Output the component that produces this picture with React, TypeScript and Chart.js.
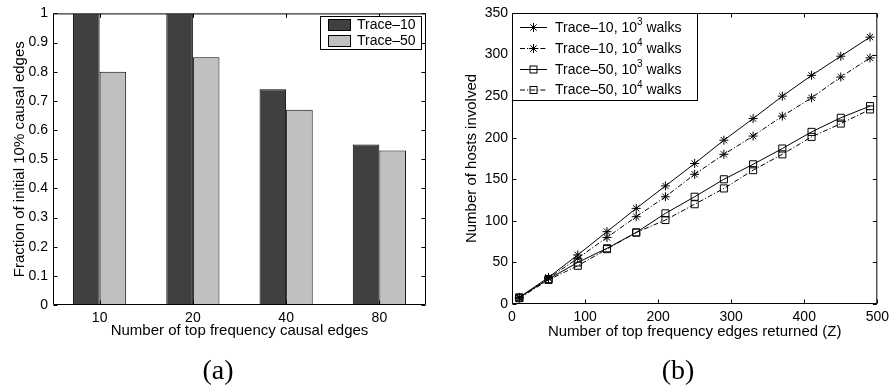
import React, { useEffect, useRef } from "react";
import { Chart, registerables } from "chart.js";

Chart.register(...registerables);

// ---------- Panel (a) data ----------
const barCategories = ["10", "20", "40", "80"];
const trace10Fraction = [1, 1, 0.74, 0.55];
const trace50Fraction = [0.8, 0.85, 0.67, 0.53];
const barYTicks = [0, 0.1, 0.2, 0.3, 0.4, 0.5, 0.6, 0.7, 0.8, 0.9, 1];

// ---------- Panel (b) data ----------
const zValues = [10, 50, 90, 130, 170, 210, 250, 290, 330, 370, 410, 450, 490];
const trace10Walks3 = [8, 32, 59, 87, 115, 142, 169, 197, 223, 250, 275, 298, 321];
const trace10Walks4 = [7, 31, 55, 80, 105, 129, 156, 180, 202, 226, 248, 273, 296];
const trace50Walks3 = [8, 30, 50, 67, 86, 109, 129, 150, 168, 187, 207, 224, 238];
const trace50Walks4 = [7, 29, 46, 66, 86, 101, 120, 139, 161, 180, 201, 217, 234];

const FONT = '"Liberation Sans", Arial, Helvetica, sans-serif';
const TICK_SIZE = 14;
const TITLE_SIZE = 15;
const LEGEND_SIZE = 14;
const DARK = "#404040";
const LIGHT = "#c0c0c0";
const DASHDOT = [5, 2, 1.2, 2];

const boxPlugin = {
  id: "mbox",
  afterDatasetsDraw(chart: any) {
    const { ctx, chartArea: a } = chart;
    const xs = chart.scales.x;
    const ys = chart.scales.y;
    const L = a.left + 0.5, R = a.right - 0.5, T = a.top + 0.5, B = a.bottom - 0.5;
    const tl = 4;
    ctx.save();
    ctx.strokeStyle = "#000";
    ctx.lineWidth = 1;
    ctx.setLineDash([]);
    ctx.beginPath();
    xs.ticks.forEach((_: any, i: number) => {
      const p = Math.round(xs.getPixelForTick(i)) + 0.5;
      ctx.moveTo(p, B); ctx.lineTo(p, B - tl);
      ctx.moveTo(p, T); ctx.lineTo(p, T + tl);
    });
    ys.ticks.forEach((_: any, i: number) => {
      const p = Math.round(ys.getPixelForTick(i)) + 0.5;
      ctx.moveTo(L, p); ctx.lineTo(L + tl, p);
      ctx.moveTo(R, p); ctx.lineTo(R - tl, p);
    });
    ctx.rect(L, T, R - L, B - T);
    ctx.stroke();
    ctx.restore();
  },
};

const barLegendPlugin = {
  id: "barLegend",
  afterDraw(chart: any) {
    const { ctx } = chart;
    ctx.save();
    ctx.fillStyle = "#fff";
    ctx.fillRect(320.5, 16.5, 101, 33);
    ctx.strokeStyle = "#000";
    ctx.lineWidth = 1;
    ctx.strokeRect(320.5, 16.5, 101, 33);
    const items = [
      { label: chart.data.datasets[0].label, color: DARK, y: 25 },
      { label: chart.data.datasets[1].label, color: LIGHT, y: 41 },
    ];
    ctx.font = LEGEND_SIZE + "px " + FONT;
    ctx.textBaseline = "middle";
    items.forEach((it) => {
      ctx.fillStyle = it.color;
      ctx.fillRect(328.5, it.y - 5.5, 22, 11);
      ctx.strokeRect(328.5, it.y - 5.5, 22, 11);
      ctx.fillStyle = "#000";
      ctx.fillText(it.label, 357, it.y + 0.5);
    });
    ctx.restore();
  },
};

function drawStar(ctx: any, x: number, y: number, r: number) {
  ctx.beginPath();
  ctx.moveTo(x - r, y); ctx.lineTo(x + r, y);
  ctx.moveTo(x, y - r); ctx.lineTo(x, y + r);
  const d = r * Math.SQRT1_2;
  ctx.moveTo(x - d, y - d); ctx.lineTo(x + d, y + d);
  ctx.moveTo(x - d, y + d); ctx.lineTo(x + d, y - d);
  ctx.stroke();
}

const lineLegendPlugin = {
  id: "lineLegend",
  afterDraw(chart: any) {
    const { ctx } = chart;
    ctx.save();
    ctx.fillStyle = "#fff";
    ctx.fillRect(62.5, 13.5, 185, 87);
    ctx.strokeStyle = "#000";
    ctx.lineWidth = 1;
    ctx.strokeRect(62.5, 13.5, 185, 87);
    const ys = [27.5, 48.5, 69.5, 90];
    chart.data.datasets.forEach((ds: any, i: number) => {
      const y = ys[i];
      ctx.strokeStyle = "#000";
      ctx.setLineDash(ds.borderDash || []);
      ctx.beginPath();
      ctx.moveTo(70, y); ctx.lineTo(97, y);
      ctx.stroke();
      ctx.setLineDash([]);
      if (ds.pointStyle === "star") drawStar(ctx, 83.5, y, 4.5);
      else ctx.strokeRect(80, y - 3.5, 7, 7);
      const parts = ds.legendParts as string[];
      ctx.fillStyle = "#000";
      ctx.textBaseline = "middle";
      ctx.font = LEGEND_SIZE + "px " + FONT;
      let x = 105;
      ctx.fillText(parts[0], x, y + 0.5);
      x += ctx.measureText(parts[0]).width;
      ctx.font = "10px " + FONT;
      ctx.fillText(parts[1], x, y - 5);
      x += ctx.measureText(parts[1]).width;
      ctx.font = LEGEND_SIZE + "px " + FONT;
      ctx.fillText(parts[2], x, y + 0.5);
    });
    ctx.restore();
  },
};

function BarPanel() {
  const ref = useRef<HTMLCanvasElement | null>(null);
  useEffect(() => {
    if (!ref.current) return;
    const chart = new Chart(ref.current, {
      type: "bar",
      data: {
        labels: barCategories,
        datasets: [
          { label: "Trace\u201310", data: trace10Fraction, backgroundColor: DARK, borderColor: "#000", borderWidth: 1 },
          { label: "Trace\u201350", data: trace50Fraction, backgroundColor: LIGHT, borderColor: "#000", borderWidth: 1 },
        ],
      },
      options: {
        responsive: false,
        animation: false,
        devicePixelRatio: 1,
        layout: { padding: { left: 0, top: 12, right: 24, bottom: 50 } },
        datasets: { bar: { categoryPercentage: 0.57, barPercentage: 1 } },
        plugins: { legend: { display: false }, tooltip: { enabled: false } },
        scales: {
          x: {
            grid: { display: false, drawTicks: false },
            border: { display: false },
            ticks: { color: "#000", font: { family: FONT, size: TICK_SIZE }, padding: 5 },
            title: { display: true, text: "Number of top frequency causal edges", color: "#000", font: { family: FONT, size: TITLE_SIZE }, padding: 0 },
            afterFit: (s: any) => { s.height = 35; },
          },
          y: {
            min: 0,
            max: 1,
            grid: { display: false, drawTicks: false },
            border: { display: false },
            afterBuildTicks: (s: any) => { s.ticks = barYTicks.map((v) => ({ value: v })); },
            ticks: { color: "#000", font: { family: FONT, size: TICK_SIZE }, padding: 5, callback: (v: any) => String(Math.round(v * 10) / 10) },
            title: { display: true, text: "Fraction of initial 10% causal edges", color: "#000", font: { family: FONT, size: TITLE_SIZE }, padding: { top: 10.5, bottom: 0 } },
            afterFit: (s: any) => { s.width = 53; },
          },
        },
      },
      plugins: [boxPlugin, barLegendPlugin],
    } as any);
    return () => chart.destroy();
  }, []);
  return <canvas ref={ref} width={450} height={390} style={{ position: "absolute", left: 0, top: 0, width: 450, height: 390 }} />;
}

function LinePanel() {
  const ref = useRef<HTMLCanvasElement | null>(null);
  useEffect(() => {
    if (!ref.current) return;
    const mk = (arr: number[]) => zValues.map((z, i) => ({ x: z, y: arr[i] }));
    const common = { borderColor: "#000", borderWidth: 1, pointBorderColor: "#000", pointBorderWidth: 1, backgroundColor: "rgba(0,0,0,0)", pointBackgroundColor: "rgba(0,0,0,0)", tension: 0 };
    const chart = new Chart(ref.current, {
      type: "line",
      data: {
        datasets: [
          { ...common, label: "Trace\u201310, 10^3 walks", legendParts: ["Trace\u201310, 10", "3", " walks"], data: mk(trace10Walks3), pointStyle: "star", pointRadius: 4.5 },
          { ...common, label: "Trace\u201310, 10^4 walks", legendParts: ["Trace\u201310, 10", "4", " walks"], data: mk(trace10Walks4), pointStyle: "star", pointRadius: 4.5, borderDash: DASHDOT },
          { ...common, label: "Trace\u201350, 10^3 walks", legendParts: ["Trace\u201350, 10", "3", " walks"], data: mk(trace50Walks3), pointStyle: "rect", pointRadius: 5 },
          { ...common, label: "Trace\u201350, 10^4 walks", legendParts: ["Trace\u201350, 10", "4", " walks"], data: mk(trace50Walks4), pointStyle: "rect", pointRadius: 5, borderDash: DASHDOT },
        ],
      },
      options: {
        responsive: false,
        animation: false,
        devicePixelRatio: 1,
        layout: { padding: { left: 0, top: 13, right: 12, bottom: 49 } },
        plugins: { legend: { display: false }, tooltip: { enabled: false } },
        scales: {
          x: {
            type: "linear",
            min: 0,
            max: 500,
            grid: { display: false, drawTicks: false },
            border: { display: false },
            ticks: { stepSize: 100, color: "#000", font: { family: FONT, size: TICK_SIZE }, padding: 5 },
            title: { display: true, text: "Number of top frequency edges returned (Z)", color: "#000", font: { family: FONT, size: TITLE_SIZE }, padding: 0 },
            afterFit: (s: any) => { s.height = 37; },
          },
          y: {
            min: 0,
            max: 350,
            grid: { display: false, drawTicks: false },
            border: { display: false },
            ticks: { stepSize: 50, color: "#000", font: { family: FONT, size: TICK_SIZE }, padding: 4 },
            title: { display: true, text: "Number of hosts involved", color: "#000", font: { family: FONT, size: TITLE_SIZE }, padding: { top: 12.7, bottom: 0 } },
            afterFit: (s: any) => { s.width = 62; },
          },
        },
      },
      plugins: [boxPlugin, lineLegendPlugin],
    } as any);
    return () => chart.destroy();
  }, []);
  return <canvas ref={ref} width={444} height={390} style={{ position: "absolute", left: 450, top: 0, width: 444, height: 390 }} />;
}

const captionStyle: React.CSSProperties = {
  position: "absolute",
  top: 352,
  width: 80,
  textAlign: "center",
  fontFamily: '"Liberation Serif", "DejaVu Serif", serif',
  fontSize: 28,
  lineHeight: "36px",
  color: "#000",
};

export default function App() {
  return (
    <div style={{ position: "absolute", left: 0, top: 0, width: 894, height: 390, background: "#fff", overflow: "hidden" }}>
      <BarPanel />
      <LinePanel />
      <div style={{ ...captionStyle, left: 178 }}>(a)</div>
      <div style={{ ...captionStyle, left: 638 }}>(b)</div>
    </div>
  );
}
